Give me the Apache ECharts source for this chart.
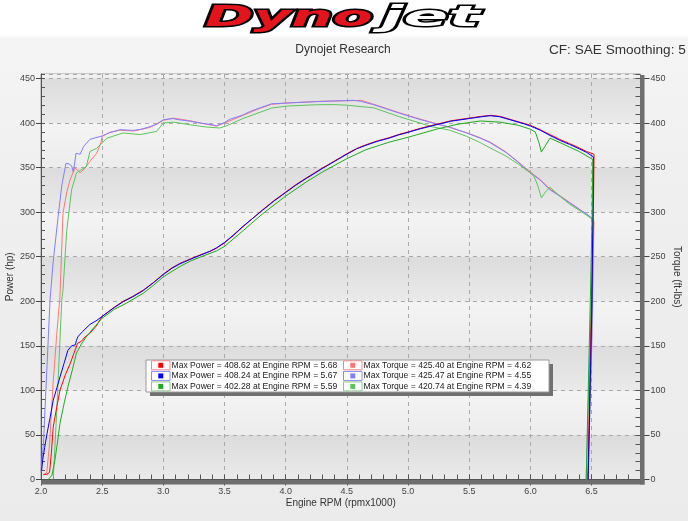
<!DOCTYPE html>
<html><head><meta charset="utf-8">
<script src="https://cdn.jsdelivr.net/npm/echarts@6/dist/echarts.min.js"></script>
<style>
html,body{margin:0;padding:0;}
#c{width:688px;height:521px;background:linear-gradient(to bottom,#ffffff 0px,#ffffff 34px,#f4f4f4 39px,#efefef 200px,#ebebeb 521px);}
</style></head><body><div id="c"></div>
<script>
// ---- Data (RPM x1000, value) ----
const redPower = [[2.02,5.7],[2.05,6],[2.07,8],[2.085,30],[2.10,59],[2.13,82],[2.155,100],[2.20,118],[2.24,130.5],[2.27,142],[2.30,153],[2.33,155],[2.36,160],[2.40,164],[2.45,172],[2.50,183],[2.60,193.5],[2.672,200],[2.75,205.5],[2.836,212.5],[2.92,221],[3.00,230.5],[3.07,237.5],[3.136,242.5],[3.22,247.5],[3.30,252],[3.38,256],[3.435,259.5],[3.50,265.5],[3.57,273.5],[3.65,283.5],[3.73,293],[3.81,302.5],[3.90,312.5],[4.00,322.5],[4.08,330.5],[4.17,338.5],[4.23,343.5],[4.30,349.5],[4.40,357.5],[4.50,365.5],[4.58,371.5],[4.655,375.5],[4.75,380],[4.845,383.5],[4.92,387],[5.00,390],[5.10,394],[5.23,398.5],[5.35,402.5],[5.50,405.5],[5.60,407.5],[5.68,408.6],[5.75,407.5],[5.85,403.5],[5.95,399.5],[6.00,397.5],[6.08,392.5],[6.16,387],[6.25,381],[6.32,377],[6.40,372],[6.46,368],[6.52,365],[6.515,300],[6.50,200],[6.47,0]];
const bluePower = [[2.005,10],[2.014,22],[2.03,36],[2.05,52],[2.075,70],[2.10,89],[2.13,103],[2.155,115],[2.19,131],[2.22,145],[2.25,150],[2.28,151],[2.29,156],[2.30,160],[2.34,166],[2.40,174],[2.45,178],[2.50,183],[2.60,193],[2.672,199.5],[2.75,205],[2.836,212],[2.92,221],[3.00,230],[3.07,237],[3.136,242],[3.22,247],[3.30,251.5],[3.38,256],[3.435,260],[3.50,266],[3.57,274],[3.65,284],[3.73,293],[3.81,302],[3.90,312],[4.00,322],[4.08,330],[4.17,338],[4.23,343],[4.30,349],[4.40,357],[4.50,365],[4.58,371],[4.655,375],[4.75,379.5],[4.845,383],[4.92,386.5],[5.00,389.5],[5.10,393.5],[5.23,398],[5.35,402],[5.50,405],[5.60,407],[5.67,408.2],[5.75,407],[5.85,403],[5.95,399],[6.00,396.6],[6.08,392],[6.16,386],[6.25,380],[6.32,376],[6.40,371],[6.46,367],[6.515,362],[6.51,300],[6.504,202],[6.472,0]];
const greenPower = [[2.06,0],[2.09,5],[2.114,22],[2.135,42],[2.155,63],[2.19,86],[2.22,104],[2.26,125],[2.29,142],[2.33,152],[2.37,160],[2.43,170],[2.50,181],[2.60,191],[2.70,198],[2.836,209],[2.92,218],[3.00,227.5],[3.136,239],[3.22,245],[3.30,249.5],[3.435,256.5],[3.50,261.5],[3.65,279],[3.81,298],[4.00,318],[4.17,334],[4.30,345],[4.50,360],[4.655,370],[4.845,378.5],[5.00,384],[5.23,393],[5.40,398.5],[5.59,402.3],[5.75,401],[5.90,397.5],[6.00,393],[6.04,390],[6.07,378],[6.09,367.4],[6.12,374],[6.16,383],[6.25,377.5],[6.32,373],[6.40,368],[6.51,359],[6.505,300],[6.49,202],[6.456,0]];
const redTorque = [[2.02,5],[2.047,8],[2.07,40],[2.10,110],[2.13,165],[2.155,205],[2.18,299],[2.21,322],[2.237,336],[2.277,349.5],[2.30,347],[2.32,344],[2.36,349.5],[2.40,357],[2.455,366],[2.49,378],[2.50,385],[2.56,389.5],[2.645,392],[2.755,391],[2.89,395],[3.00,403],[3.08,405.5],[3.22,402.5],[3.30,400],[3.435,396.5],[3.50,400],[3.65,408.5],[3.79,416.5],[3.885,421],[4.01,422.5],[4.25,424.2],[4.62,425.4],[4.72,421],[4.82,416.5],[4.93,411.5],[5.06,406],[5.20,400.5],[5.34,395],[5.48,389],[5.59,383.5],[5.68,378],[5.80,367.5],[5.90,356.5],[6.00,345],[6.08,336.5],[6.16,326],[6.24,318.5],[6.32,311],[6.40,303.5],[6.46,297.5],[6.52,290],[6.50,160],[6.47,0]];
const blueTorque = [[2.00,8],[2.02,40],[2.04,100],[2.074,202],[2.10,245],[2.14,295],[2.17,330],[2.204,354.7],[2.23,354],[2.25,352],[2.264,345],[2.275,355],[2.286,366],[2.32,365],[2.35,374],[2.40,381.7],[2.50,385.5],[2.56,389],[2.645,392.5],[2.755,391.7],[2.82,393],[2.89,396],[2.945,398.5],[3.00,403.7],[3.08,405],[3.11,404],[3.22,402],[3.30,400],[3.38,398.5],[3.435,397],[3.50,400.5],[3.54,404],[3.65,409],[3.71,413],[3.79,417],[3.885,421.6],[4.01,422.4],[4.25,424],[4.55,425.5],[4.61,424.5],[4.72,420.5],[4.82,416],[4.93,411],[5.06,405.5],[5.20,400],[5.34,395.5],[5.48,388.8],[5.59,383],[5.67,378],[5.80,367],[5.90,356],[6.00,344],[6.08,336],[6.16,325],[6.24,318],[6.32,310.5],[6.40,303],[6.46,298],[6.515,292],[6.504,163],[6.472,0]];
const greenTorque = [[2.10,0],[2.13,80],[2.17,202],[2.18,213],[2.21,279],[2.25,325],[2.29,344],[2.33,347.6],[2.37,351],[2.40,368],[2.455,371.6],[2.54,383],[2.67,388.8],[2.81,387],[2.945,390.6],[3.00,400],[3.08,401],[3.22,398],[3.35,395.5],[3.46,394.4],[3.52,397],[3.65,405],[3.885,416.8],[4.01,419],[4.25,420.5],[4.39,420.7],[4.50,420],[4.72,417],[4.93,407],[5.20,395.7],[5.34,392],[5.48,385],[5.59,378],[5.70,370],[5.80,363],[5.90,354],[6.00,344],[6.03,340],[6.06,330],[6.09,316],[6.12,322],[6.16,328],[6.24,318],[6.32,309],[6.40,302],[6.51,292],[6.49,160],[6.456,0]];

const legendPower = ['Max Power = 408.62 at Engine RPM = 5.68','Max Power = 408.24 at Engine RPM = 5.67','Max Power = 402.28 at Engine RPM = 5.59'];
const legendTorque = ['Max Torque = 425.40 at Engine RPM = 4.62','Max Torque = 425.47 at Engine RPM = 4.55','Max Torque = 420.74 at Engine RPM = 4.39'];

const titleText = 'Dynojet Research';
const cfText = 'CF: SAE Smoothing: 5';

// ---- Styling ----
const F = '"Liberation Sans", Arial, sans-serif';
const powerColors = ['#ff0000','#0000ff','#1faa1f'];
const torqueColors = ['#ff7575','#7f7fff','#5cc45c'];
const swatchOutline = ['#f08a8a','#8a8af0','#8ac88a'];

const chart = echarts.init(document.getElementById('c'));

const gDark = new echarts.graphic.LinearGradient(0,0,0,1,[{offset:0,color:'#dcdcdc'},{offset:1,color:'#eaeaea'}]);
const gLight = new echarts.graphic.LinearGradient(0,0,0,1,[{offset:0,color:'#f4f4f4'},{offset:1,color:'#ececec'}]);

const dash = {color:'#a9a9a9',width:1,type:[4,4]};

function lineSeries(name,data,color,yIdx){
  return {name:name,type:'line',data:data,xAxisIndex:0,yAxisIndex:yIdx,showSymbol:false,symbol:'none',
    lineStyle:{color:color,width:1},itemStyle:{color:color},silent:true,z:3};
}

const graphics = [];
// logo
graphics.push({type:'text',x:205,y:19,scaleX:2.08,z:10,style:{text:'Dyno',fontFamily:'"DejaVu Sans"',fontWeight:'bold',fontStyle:'italic',fontSize:28,fill:'#e3141b',stroke:'#000',lineWidth:3,strokeFirst:true,textVerticalAlign:'middle',textAlign:'left'}});
graphics.push({type:'text',x:381,y:19,scaleX:2.35,z:10,style:{text:'jet',fontFamily:'"DejaVu Sans"',fontWeight:'bold',fontStyle:'italic',fontSize:28,fill:'#ffffff',stroke:'#000',lineWidth:3,strokeFirst:true,textVerticalAlign:'middle',textAlign:'left'}});
// titles
graphics.push({type:'text',x:343,y:50,z:10,style:{text:titleText,fontFamily:F,fontSize:12,fill:'#333',textAlign:'center',textVerticalAlign:'middle'}});
graphics.push({type:'text',x:549,y:50,z:10,style:{text:cfText,fontFamily:F,fontSize:13.6,fill:'#333',textAlign:'left',textVerticalAlign:'middle'}});
// plot frame shadow bars
graphics.push({type:'rect',z:5,shape:{x:640,y:75,width:4.5,height:409.5},style:{fill:'#6e6e6e'}});
graphics.push({type:'rect',z:5,shape:{x:41,y:480,width:603.5,height:4.5},style:{fill:'#6e6e6e'}});
// legend box
graphics.push({type:'rect',z:20,shape:{x:150,y:364,width:403,height:32},style:{fill:'#707070'}});
graphics.push({type:'rect',z:21,shape:{x:146,y:360,width:403,height:32},style:{fill:'#ffffff',stroke:'#9a9a9a',lineWidth:1}});
const rowY = [365.3,375.9,386.4];
for(let i=0;i<3;i++){
  const cy=rowY[i];
  graphics.push({type:'rect',z:22,shape:{x:151.5,y:cy-4.5,width:18.5,height:9},style:{fill:'#fff',stroke:swatchOutline[i],lineWidth:1}});
  graphics.push({type:'rect',z:23,shape:{x:158.3,y:cy-2.5,width:5,height:5},style:{fill:powerColors[i]}});
  graphics.push({type:'text',x:171.5,y:cy,z:23,style:{text:legendPower[i],fontFamily:F,fontSize:8.6,fill:'#222',textAlign:'left',textVerticalAlign:'middle'}});
  graphics.push({type:'rect',z:22,shape:{x:343.5,y:cy-4.5,width:18.5,height:9},style:{fill:'#fff',stroke:swatchOutline[i],lineWidth:1}});
  graphics.push({type:'rect',z:23,shape:{x:350.3,y:cy-2.5,width:5,height:5},style:{fill:torqueColors[i]}});
  graphics.push({type:'text',x:363.5,y:cy,z:23,style:{text:legendTorque[i],fontFamily:F,fontSize:8.6,fill:'#222',textAlign:'left',textVerticalAlign:'middle'}});
}

const option = {
  animation:false,
  grid:{left:41,right:47.5,top:74,bottom:41.5,show:true,borderColor:'#9a9a9a',borderWidth:1,backgroundColor:'transparent',containLabel:false,outerBoundsMode:'none'},
  xAxis:[
    {type:'value',min:2,max:6.9,interval:0.5,position:'bottom',
     name:'Engine RPM (rpmx1000)',nameLocation:'middle',nameGap:19,nameMoveOverlap:false,
     nameTextStyle:{fontFamily:F,fontSize:10,color:'#333'},
     axisLine:{show:true,onZero:false,lineStyle:{color:'#555'}},
     axisTick:{show:true,inside:false,length:6,lineStyle:{color:'#444'}},
     axisLabel:{show:true,margin:8,fontFamily:F,fontSize:9,color:'#444',showMaxLabel:false,formatter:function(v){return v.toFixed(1);}},
     splitLine:{show:true,lineStyle:dash}},
    {type:'value',min:2,max:6.9,interval:0.1,position:'bottom',
     axisLine:{show:false,onZero:false},axisTick:{show:true,inside:true,length:5,lineStyle:{color:'#555'}},
     axisLabel:{show:false},splitLine:{show:false}}
  ],
  yAxis:[
    {type:'value',min:0,max:455,interval:50,position:'left',
     name:'Power (hp)',nameLocation:'middle',nameGap:26,nameRotate:90,nameMoveOverlap:false,
     nameTextStyle:{fontFamily:F,fontSize:10,color:'#333'},
     axisLine:{show:true,onZero:false,lineStyle:{color:'#555'}},
     axisTick:{show:true,inside:false,length:5,lineStyle:{color:'#444'}},
     axisLabel:{margin:6,fontFamily:F,fontSize:9,color:'#444',showMaxLabel:false},
     splitLine:{show:true,lineStyle:dash},
     splitArea:{show:true,areaStyle:{color:[gDark,gLight]}}},
    {type:'value',min:0,max:455,interval:50,position:'right',
     name:'Torque (ft-lbs)',nameLocation:'middle',nameGap:31,nameRotate:-90,nameMoveOverlap:false,
     nameTextStyle:{fontFamily:F,fontSize:10,color:'#333'},
     axisLine:{show:false,onZero:false},
     axisTick:{show:true,inside:false,length:9,lineStyle:{color:'#444'}},
     axisLabel:{margin:10,fontFamily:F,fontSize:9,color:'#444',showMaxLabel:false},
     splitLine:{show:false}},
    {type:'value',min:0,max:455,interval:10,position:'left',
     axisLine:{show:false,onZero:false},axisTick:{show:true,inside:true,length:4,lineStyle:{color:'#555'}},
     axisLabel:{show:false},splitLine:{show:false}},
    {type:'value',min:0,max:455,interval:10,position:'right',
     axisLine:{show:false,onZero:false},axisTick:{show:true,inside:true,length:5,lineStyle:{color:'#555'}},
     axisLabel:{show:false},splitLine:{show:false}}
  ],
  series:[
    lineSeries('Torque Red',redTorque,torqueColors[0],1),
    lineSeries('Torque Blue',blueTorque,torqueColors[1],1),
    lineSeries('Torque Green',greenTorque,torqueColors[2],1),
    lineSeries('Power Red',redPower,powerColors[0],0),
    lineSeries('Power Blue',bluePower,powerColors[1],0),
    lineSeries('Power Green',greenPower,powerColors[2],0)
  ],
  graphic:graphics
};
chart.setOption(option);
</script></body></html>
